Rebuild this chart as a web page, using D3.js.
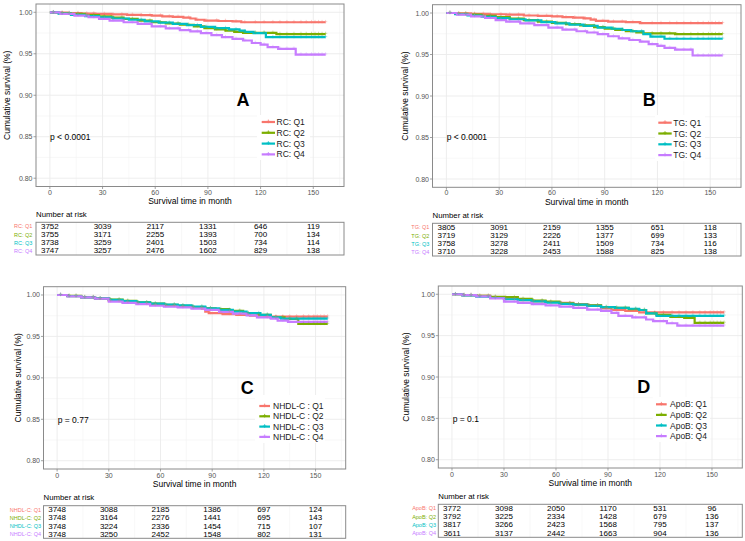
<!DOCTYPE html>
<html><head><meta charset="utf-8">
<script src="https://cdn.jsdelivr.net/npm/d3@7"></script>
<style>body{margin:0;background:#fff}svg{display:block}text{font-family:"Liberation Sans",Arial,sans-serif}</style>
</head><body><svg id="c" width="745" height="541"></svg>
<script>
// ---------- data ----------
const timeBreaks = [0, 30, 60, 90, 120, 150];
const timeMinor = [15, 45, 75, 105, 135, 165];
const survBreaks = [0.80, 0.85, 0.90, 0.95, 1.00];
const survMinor = [0.825, 0.875, 0.925, 0.975];
const groupColors = ["#F8766D", "#7CAE00", "#00BFC4", "#C77CFF"];
const panelLetters = ["A", "B", "C", "D"];
const pTexts = ["p < 0.0001", "p < 0.0001", "p = 0.77", "p = 0.1"];
const legendRC = ["RC: Q1", "RC: Q2", "RC: Q3", "RC: Q4"];
const legendTG = ["TG: Q1", "TG: Q2", "TG: Q3", "TG: Q4"];
const legendNHDL = ["NHDL-C : Q1", "NHDL-C : Q2", "NHDL-C : Q3", "NHDL-C : Q4"];
const tableNHDL = ["NHDL-C: Q1", "NHDL-C: Q2", "NHDL-C: Q3", "NHDL-C: Q4"];
const legendApoB = ["ApoB: Q1", "ApoB: Q2", "ApoB: Q3", "ApoB: Q4"];
const censorTimes = [2, 7, 11, 16, 21, 25, 31, 36, 41, 47, 52, 57, 63, 68, 73, 79, 84, 89, 95, 100, 106, 111, 117, 122, 127, 131, 135, 139, 143, 146, 149, 151, 153, 155, 157];

const riskRC = [[3752,3039,2117,1331,646,119],[3755,3171,2255,1393,700,134],[3738,3259,2401,1503,734,114],[3747,3257,2476,1602,829,138]];
const riskTG = [[3805,3091,2159,1355,651,118],[3719,3129,2226,1377,699,133],[3758,3278,2411,1509,734,116],[3710,3228,2453,1588,825,138]];
const riskNHDL = [[3748,3088,2185,1386,697,124],[3748,3164,2276,1441,695,143],[3748,3224,2336,1454,715,107],[3748,3250,2452,1548,802,131]];
const riskApoB = [[3772,3098,2050,1170,531,96],[3792,3225,2334,1428,679,136],[3817,3266,2423,1568,795,137],[3611,3137,2442,1663,904,136]];

const rcQ1 = [[0,1],[4,0.9995],[10,0.999],[18,0.9985],[26,0.998],[35,0.9975],[44,0.997],[52,0.9965],[58,0.996],[64,0.995],[70,0.9945],[76,0.9935],[80,0.9925],[83,0.991],[88,0.990],[96,0.9895],[104,0.989],[109,0.988],[157,0.988]];
const rcQ2 = [[0,1],[5,0.999],[12,0.998],[20,0.9965],[28,0.995],[35,0.9935],[42,0.992],[50,0.990],[58,0.988],[66,0.9865],[74,0.985],[82,0.983],[88,0.981],[94,0.9795],[100,0.978],[105,0.9765],[110,0.9752],[129,0.9738],[157,0.9738]];
const rcQ3 = [[0,1],[5,0.9985],[12,0.997],[20,0.9955],[28,0.994],[36,0.9925],[45,0.991],[54,0.989],[62,0.9875],[70,0.986],[78,0.9845],[86,0.9825],[94,0.981],[102,0.9795],[108,0.978],[111,0.9765],[116,0.975],[123,0.970],[157,0.970]];
const rcQ4 = [[0,1],[6,0.998],[14,0.996],[22,0.994],[28,0.992],[34,0.990],[42,0.988],[50,0.986],[58,0.983],[66,0.9805],[74,0.9785],[80,0.977],[86,0.975],[92,0.9725],[98,0.970],[104,0.968],[110,0.966],[115,0.963],[120,0.961],[124,0.958],[130,0.956],[140,0.949],[157,0.949]];

const tgQ1 = [[0,1],[6,0.9995],[14,0.999],[24,0.9985],[34,0.998],[44,0.997],[52,0.9965],[60,0.996],[66,0.995],[72,0.9945],[78,0.9935],[82,0.992],[85,0.9905],[92,0.9895],[102,0.989],[110,0.9878],[157,0.9878]];
const tgQ2 = [[0,1],[5,0.999],[12,0.998],[20,0.9965],[28,0.995],[36,0.9932],[44,0.9915],[52,0.9895],[60,0.988],[68,0.9865],[76,0.985],[84,0.983],[90,0.981],[96,0.9795],[102,0.978],[108,0.9765],[112,0.9755],[130,0.9745],[157,0.9745]];
const tgQ3 = [[0,1],[5,0.9985],[12,0.997],[20,0.9955],[28,0.994],[36,0.9925],[45,0.991],[54,0.989],[62,0.9875],[70,0.986],[78,0.9845],[86,0.9825],[94,0.981],[100,0.9795],[105,0.978],[112,0.9745],[116,0.9715],[124,0.969],[157,0.969]];
const tgQ4 = [[0,1],[6,0.998],[14,0.996],[22,0.994],[28,0.9915],[34,0.9895],[42,0.9875],[50,0.9855],[58,0.9825],[66,0.980],[74,0.978],[80,0.9765],[86,0.9745],[92,0.972],[98,0.9695],[104,0.9675],[110,0.9655],[115,0.9625],[120,0.9605],[124,0.958],[130,0.9558],[140,0.9488],[157,0.9488]];

const nhQ1 = [[0,1],[6,0.9985],[14,0.997],[22,0.9955],[30,0.993],[38,0.9915],[46,0.990],[54,0.988],[62,0.987],[70,0.986],[78,0.985],[84,0.9835],[86,0.980],[88,0.978],[96,0.977],[104,0.976],[112,0.975],[120,0.974],[157,0.974]];
const nhQ2 = [[0,1],[6,0.999],[14,0.9975],[22,0.996],[30,0.9945],[38,0.993],[46,0.991],[54,0.9895],[62,0.988],[70,0.987],[78,0.9855],[86,0.984],[92,0.983],[100,0.981],[108,0.978],[116,0.976],[124,0.973],[132,0.971],[140,0.965],[157,0.965]];
const nhQ3 = [[0,1],[6,0.9985],[14,0.997],[22,0.996],[30,0.994],[38,0.9925],[46,0.991],[54,0.9895],[62,0.9885],[70,0.9875],[78,0.986],[86,0.984],[94,0.982],[102,0.980],[110,0.978],[118,0.976],[124,0.973],[130,0.9715],[157,0.9715]];
const nhQ4 = [[0,1],[6,0.9985],[14,0.997],[22,0.9955],[30,0.992],[38,0.9905],[46,0.989],[54,0.987],[62,0.986],[70,0.985],[78,0.9835],[86,0.982],[94,0.9795],[102,0.9775],[110,0.9755],[116,0.973],[124,0.9715],[128,0.969],[134,0.9675],[157,0.9675]];

const apQ1 = [[0,1],[6,0.999],[14,0.998],[22,0.9965],[30,0.9945],[38,0.993],[46,0.9915],[54,0.9905],[62,0.9895],[70,0.988],[78,0.9865],[86,0.983],[92,0.981],[100,0.980],[108,0.978],[157,0.978]];
const apQ2 = [[0,1],[6,0.999],[14,0.998],[22,0.997],[30,0.9965],[38,0.9945],[46,0.9925],[54,0.991],[62,0.989],[70,0.9875],[78,0.9865],[86,0.9845],[94,0.9835],[102,0.982],[108,0.981],[112,0.977],[118,0.975],[126,0.9725],[134,0.9715],[140,0.9655],[157,0.9655]];
const apQ3 = [[0,1],[6,0.9985],[14,0.997],[22,0.9955],[30,0.994],[38,0.993],[46,0.9915],[54,0.990],[62,0.9885],[70,0.9875],[78,0.986],[86,0.9845],[94,0.9835],[102,0.9825],[108,0.981],[112,0.977],[118,0.974],[157,0.974]];
const apQ4 = [[0,1],[6,0.999],[14,0.9975],[22,0.995],[30,0.991],[38,0.9895],[46,0.988],[54,0.9865],[62,0.985],[70,0.9835],[78,0.9815],[86,0.980],[92,0.9775],[96,0.974],[104,0.972],[112,0.9695],[116,0.9675],[124,0.965],[130,0.962],[157,0.962]];

// ---------- layout ----------
const panels = [
  {curves:[rcQ1,rcQ2,rcQ3,rcQ4], risk:riskRC, legend:legendRC, rowLabels:legendRC,
   box:[36,344,4,186.5], yTitleX:7, tickY:192, xTitleY:200.7, narY:214, table:[222.3,255], rowLabelX:32.3,
   leg:{bg:[257,310,115,160], k0:261.7, k1:275, tx:276.5, y0:122, dy:10.8}, letter:[243,100], p:[50,137]},
  {curves:[tgQ1,tgQ2,tgQ3,tgQ4], risk:riskTG, legend:legendTG, rowLabels:legendTG,
   box:[432.5,741,4.7,187.3], yTitleX:405, tickY:192.7, xTitleY:201.7, narY:215, table:[223.3,256], rowLabelX:429.3,
   leg:{bg:[655,705,115,161], k0:658.3, k1:671.7, tx:673.3, y0:122.7, dy:10.8}, letter:[649.3,100.3], p:[446.7,137.3]},
  {curves:[nhQ1,nhQ2,nhQ3,nhQ4], risk:riskNHDL, legend:legendNHDL, rowLabels:tableNHDL,
   box:[43.5,345.7,286.7,469], yTitleX:18, tickY:475, xTitleY:484, narY:497.7, table:[505.7,538.3], rowLabelX:41,
   leg:{bg:[255,325,395,443], k0:259.3, k1:270, tx:273, y0:406, dy:10.3}, letter:[247.3,388.3], p:[57.7,420]},
  {curves:[apQ1,apQ2,apQ3,apQ4], risk:riskApoB, legend:legendApoB, rowLabels:legendApoB,
   box:[438.3,742.3,286,468], yTitleX:405.7, tickY:474, xTitleY:483.3, narY:496.7, table:[504.3,537.3], rowLabelX:436,
   leg:{bg:[652.7,710,397,442], k0:656, k1:666.7, tx:670, y0:404.3, dy:10.6}, letter:[643.7,387], p:[452.7,419]}
];

const svg = d3.select("#c");
svg.append("rect").attr("width",745).attr("height",541).attr("fill","#fff");
const gridCol = "#EBEBEB", borderCol = "#8a8a8a", tickCol = "#555";

panels.forEach((P, pi) => {
  const [bx0,bx1,by0,by1] = P.box;
  const x = d3.scaleLinear().domain([-7.9,167.5]).range([bx0,bx1]);
  const y = d3.scaleLinear().domain([0.79,1.01]).range([by1,by0]);
  const g = svg.append("g");

  // grid
  g.selectAll(null).data(timeMinor.filter(t=>x(t)<bx1)).enter().append("line")
    .attr("x1",d=>x(d)).attr("x2",d=>x(d)).attr("y1",by0).attr("y2",by1).attr("stroke","#F4F4F4").attr("stroke-width",0.6);
  g.selectAll(null).data(survMinor).enter().append("line")
    .attr("y1",d=>y(d)).attr("y2",d=>y(d)).attr("x1",bx0).attr("x2",bx1).attr("stroke","#F4F4F4").attr("stroke-width",0.6);
  g.selectAll(null).data(timeBreaks).enter().append("line")
    .attr("x1",d=>x(d)).attr("x2",d=>x(d)).attr("y1",by0).attr("y2",by1).attr("stroke",gridCol).attr("stroke-width",0.9);
  g.selectAll(null).data(survBreaks).enter().append("line")
    .attr("y1",d=>y(d)).attr("y2",d=>y(d)).attr("x1",bx0).attr("x2",bx1).attr("stroke",gridCol).attr("stroke-width",0.9);

  // curves
  const line = d3.line().curve(d3.curveStepAfter).x(d=>x(d[0])).y(d=>y(d[1]));
  P.curves.forEach((c, ci) => {
    g.append("path").attr("d",line(c)).attr("fill","none").attr("stroke",groupColors[ci]).attr("stroke-width",2.2);
  });
  // censor marks
  const bis = d3.bisector(d=>d[0]).right;
  P.curves.forEach((c, ci) => {
    const last = c[c.length-1][0];
    censorTimes.filter(t=>t<=last).forEach(t => {
      const s = c[Math.max(0,bis(c,t)-1)][1];
      const cx = x(t), cy = y(s);
      g.append("path").attr("d",`M${cx-1.7},${cy-0.6}h3.4M${cx},${cy-2.3}v3.4`)
        .attr("stroke",groupColors[ci]).attr("stroke-width",0.7).attr("opacity",0.5);
    });
  });

  // border
  g.append("rect").attr("x",bx0).attr("y",by0).attr("width",bx1-bx0).attr("height",by1-by0)
    .attr("fill","none").attr("stroke",borderCol).attr("stroke-width",1);

  // axes ticks
  g.selectAll(null).data(timeBreaks).enter().append("line")
    .attr("x1",d=>x(d)).attr("x2",d=>x(d)).attr("y1",by1).attr("y2",by1+2.5).attr("stroke",borderCol).attr("stroke-width",0.8);
  g.selectAll(null).data(timeBreaks).enter().append("text")
    .attr("x",d=>x(d)).attr("y",P.tickY).attr("text-anchor","middle").attr("dominant-baseline","central")
    .attr("font-size",7).attr("fill",tickCol).text(d=>d);
  g.selectAll(null).data(survBreaks).enter().append("line")
    .attr("x1",bx0-2.5).attr("x2",bx0).attr("y1",d=>y(d)).attr("y2",d=>y(d)).attr("stroke",borderCol).attr("stroke-width",0.8);
  g.selectAll(null).data(survBreaks).enter().append("text")
    .attr("x",bx0-3.5).attr("y",d=>y(d)).attr("text-anchor","end").attr("dominant-baseline","central")
    .attr("font-size",7).attr("fill",tickCol).text(d=>d.toFixed(2));

  // titles
  g.append("text").attr("transform",`translate(${P.yTitleX},${(by0+by1)/2}) rotate(-90)`)
    .attr("text-anchor","middle").attr("dominant-baseline","central").attr("font-size",8.5).attr("fill","#000")
    .text("Cumulative survival (%)");
  g.append("text").attr("x",(bx0+bx1)/2).attr("y",P.xTitleY).attr("text-anchor","middle").attr("dominant-baseline","central")
    .attr("font-size",8.5).attr("fill","#000").text("Survival time in month");

  // p value
  g.append("text").attr("x",P.p[0]).attr("y",P.p[1]).attr("dominant-baseline","central")
    .attr("font-size",8.5).attr("fill","#000").text(pTexts[pi]);

  // legend
  const L = P.leg;
  g.append("rect").attr("x",L.bg[0]).attr("y",L.bg[2]).attr("width",L.bg[1]-L.bg[0]).attr("height",L.bg[3]-L.bg[2]).attr("fill","#fff");
  P.legend.forEach((lab, i) => {
    const ly = L.y0 + i*L.dy;
    g.append("line").attr("x1",L.k0).attr("x2",L.k1).attr("y1",ly).attr("y2",ly).attr("stroke",groupColors[i]).attr("stroke-width",2.2);
    const cx=(L.k0+L.k1)/2;
    g.append("path").attr("d",`M${cx-1.8},${ly-0.6}h3.6M${cx},${ly-2.4}v3.6`).attr("stroke",groupColors[i]).attr("stroke-width",0.8);
    g.append("text").attr("x",L.tx).attr("y",ly).attr("dominant-baseline","central").attr("font-size",8.5).attr("fill","#1a1a1a").text(lab);
  });

  // panel letter
  g.append("text").attr("x",P.letter[0]).attr("y",P.letter[1]).attr("text-anchor","middle").attr("dominant-baseline","central")
    .attr("font-size",18).attr("font-weight","bold").attr("fill","#000").text(panelLetters[pi]);

  // risk table
  const [ty0,ty1] = P.table;
  g.append("text").attr("x",bx0).attr("y",P.narY).attr("dominant-baseline","central").attr("font-size",7.8).attr("fill","#000").text("Number at risk");
  g.selectAll(null).data(timeMinor.filter(t=>x(t)<bx1)).enter().append("line")
    .attr("x1",d=>x(d)).attr("x2",d=>x(d)).attr("y1",ty0).attr("y2",ty1).attr("stroke","#F4F4F4").attr("stroke-width",0.6);
  g.selectAll(null).data(timeBreaks).enter().append("line")
    .attr("x1",d=>x(d)).attr("x2",d=>x(d)).attr("y1",ty0).attr("y2",ty1).attr("stroke",gridCol).attr("stroke-width",0.9);
  const rowY = d3.scaleBand().domain([0,1,2,3]).range([ty0,ty1]);
  P.risk.forEach((row, ri) => {
    const ry = rowY(ri) + rowY.bandwidth()/2;
    row.forEach((v, k) => {
      g.append("text").attr("x",x(timeBreaks[k])).attr("y",ry).attr("text-anchor","middle").attr("dominant-baseline","central")
        .attr("font-size",8).attr("fill","#000").text(v);
    });
    g.append("text").attr("x",P.rowLabelX).attr("y",ry).attr("text-anchor","end").attr("dominant-baseline","central")
      .attr("font-size",5.5).attr("fill",groupColors[ri]).text(P.rowLabels[ri]);
  });
  g.append("rect").attr("x",bx0).attr("y",ty0).attr("width",bx1-bx0).attr("height",ty1-ty0)
    .attr("fill","none").attr("stroke",borderCol).attr("stroke-width",1);
});
</script>
</body></html>
